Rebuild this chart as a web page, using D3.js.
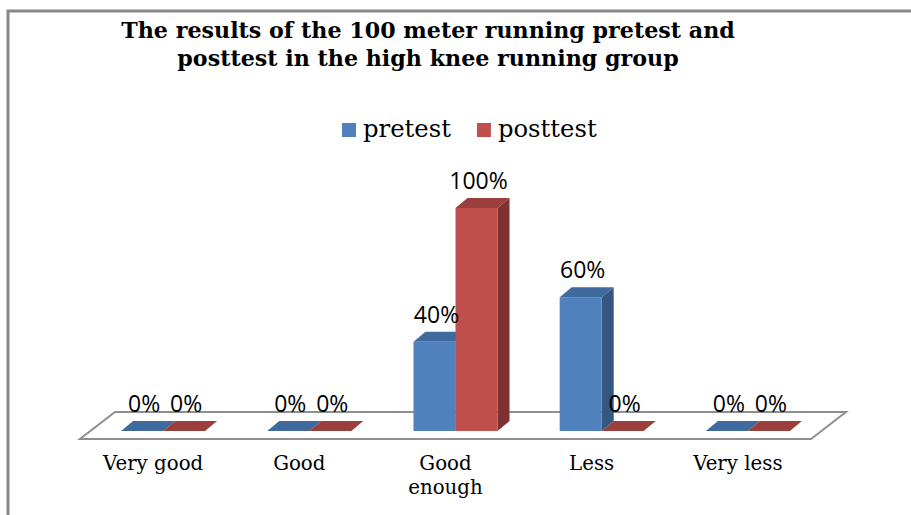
<!DOCTYPE html>
<html>
<head>
<meta charset="utf-8">
<script src="https://cdn.jsdelivr.net/npm/d3@7"></script>
<style>
  body { margin: 0; background: #fff; }
  svg { display: block; }
</style>
</head>
<body>
<svg id="chart"></svg>
<script>
// chart values
var categories = ["Very good", "Good", "Good enough", "Less", "Very less"];
var seriesNames = ["pretest", "posttest"];
var pretest = [0, 0, 40, 60, 0];
var posttest = [0, 0, 100, 0, 0];
var titleLines = ["The results of the 100 meter running pretest and",
                  "posttest in the high knee running group"];

var width = 911, height = 515;
var svg = d3.select("#chart").attr("width", width).attr("height", height);

// colours per series: front, top, side
var colors = {
  pretest:  { front: "#4f81bd", top: "#3f6a9d", side: "#34577f" },
  posttest: { front: "#c0504d", top: "#9a3f3c", side: "#7e312f" }
};

// outer frame (only top and left edge show in the picture)
svg.append("path")
    .attr("d", "M8,515 L8,11 L911,11")
    .attr("fill", "none")
    .attr("stroke", "#878787")
    .attr("stroke-width", 3);

// title
var title = svg.append("text")
    .attr("text-anchor", "middle")
    .attr("font-family", "DejaVu Serif")
    .attr("font-weight", "bold")
    .attr("font-size", 20)
    .attr("fill", "#000");
title.selectAll("tspan")
    .data(titleLines)
  .enter().append("tspan")
    .attr("x", 428)
    .attr("y", (d, i) => 38 + i * 28)
    .text(d => d);
// fit first line to the width it has in the picture
var tw = title.select("tspan").node().getComputedTextLength();
title.attr("font-size", 20 * 614 / tw);

// floor and scales
var floorFront = 439, depthX = 35, depthY = -27;
var barOffX = 10, barOffY = -8, barDX = 12, barDY = -10;

var x = d3.scaleBand()
    .domain(categories)
    .range([80, 811])
    .padding(0);

var xs = d3.scaleBand()
    .domain(seriesNames)
    .range([0, x.bandwidth()])
    .paddingInner(0)
    .paddingOuter(0.74);

var y = d3.scaleLinear()
    .domain([0, 100])
    .range([floorFront + barOffY, floorFront + barOffY - 223]);

var x0 = x.range()[0], x1 = x.range()[1];
svg.append("polygon")
    .attr("points", [[x0, floorFront], [x1, floorFront],
                     [x1 + depthX, floorFront + depthY], [x0 + depthX, floorFront + depthY]].join(" "))
    .attr("fill", "#fff")
    .attr("stroke", "#8f8f8f")
    .attr("stroke-width", 2);

// bars
var rows = [];
categories.forEach((c, i) => {
  rows.push({ cat: c, s: "pretest", v: pretest[i] });
  rows.push({ cat: c, s: "posttest", v: posttest[i] });
});

var bars = svg.append("g").selectAll("g.bar")
    .data(rows)
  .enter().append("g")
    .classed("bar", true);

function geom(d) {
  var bx = x(d.cat) + barOffX + xs(d.s);
  var w = xs.bandwidth();
  return { bx: bx, w: w, y0: y(0), y1: y(d.v) };
}

bars.append("polygon")
    .attr("points", d => {
      var g = geom(d);
      return [[g.bx + g.w, g.y1], [g.bx + g.w + barDX, g.y1 + barDY],
              [g.bx + g.w + barDX, g.y0 + barDY], [g.bx + g.w, g.y0]].join(" ");
    })
    .attr("fill", d => colors[d.s].side);

bars.append("polygon")
    .attr("points", d => {
      var g = geom(d);
      return [[g.bx, g.y1], [g.bx + g.w, g.y1],
              [g.bx + g.w + barDX, g.y1 + barDY], [g.bx + barDX, g.y1 + barDY]].join(" ");
    })
    .attr("fill", d => colors[d.s].top);

bars.append("rect")
    .attr("x", d => geom(d).bx)
    .attr("y", d => geom(d).y1)
    .attr("width", d => geom(d).w)
    .attr("height", d => geom(d).y0 - geom(d).y1)
    .attr("fill", d => colors[d.s].front);

// data labels
svg.append("g").selectAll("text")
    .data(rows)
  .enter().append("text")
    .attr("x", d => geom(d).bx + geom(d).w / 2 + 2)
    .attr("y", d => geom(d).y1 - 19)
    .attr("text-anchor", "middle")
    .attr("font-family", "Open Sans")
    .attr("font-size", 23)
    .attr("fill", "#000")
    .text(d => d.v + "%");

// category axis
var axis = svg.append("g")
    .attr("transform", "translate(0," + floorFront + ")")
    .call(d3.axisBottom(x).tickSize(0).tickSizeOuter(0));
axis.select(".domain").remove();
axis.selectAll("text")
    .attr("font-family", "DejaVu Serif")
    .attr("font-size", 19.8)
    .attr("fill", "#000")
    .attr("dy", null)
    .attr("y", 31)
    .each(function(d) {
      var t = d3.select(this);
      if (this.getComputedTextLength() > 115) {
        var words = d.split(" ");
        t.text(null);
        words.forEach((wd, i) => {
          t.append("tspan").attr("x", 0).attr("y", 31 + i * 24).text(wd);
        });
      }
    });

// legend
var legend = svg.append("g").attr("transform", "translate(342,137)");
var lx = 0;
seriesNames.forEach(s => {
  var g = legend.append("g").attr("transform", "translate(" + lx + ",0)");
  g.append("rect")
      .attr("x", 0).attr("y", -14)
      .attr("width", 14).attr("height", 14)
      .attr("fill", colors[s].front);
  var t = g.append("text")
      .attr("x", 21).attr("y", 0)
      .attr("font-family", "DejaVu Serif")
      .attr("font-size", 24.3)
      .attr("fill", "#000")
      .text(s);
  lx += 21 + t.node().getComputedTextLength() + 26;
});
</script>
</body>
</html>
